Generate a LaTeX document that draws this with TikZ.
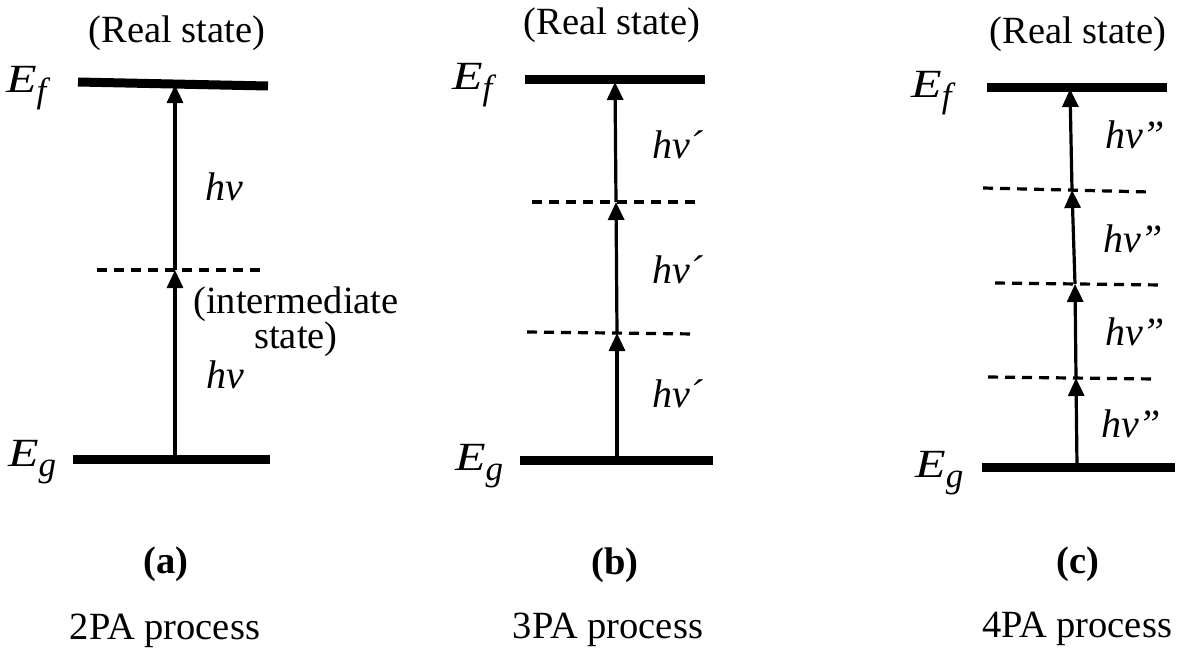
\documentclass[tikz,border=0pt]{standalone}
\usepackage{fontspec}
\setmainfont{Liberation Serif}
\usetikzlibrary{arrows.meta}
\newcommand{\bigE}{\scalebox{1.25}[1]{E}}
\newcommand{\subsc}[1]{\raisebox{-10pt}{\fontsize{35}{35}\selectfont #1}}
\begin{document}
\begin{tikzpicture}[x=1pt,y=-1pt,
  reallevel/.style={line width=9pt},
  virtlevel/.style={line width=3.2pt, dash pattern=on 10pt off 7pt},
  photon/.style={line width=3.2pt, -{Triangle[length=18pt,width=16pt]}},
  txt/.style={inner sep=0pt, font=\fontsize{38.5}{35}\selectfont},
  elbl/.style={txt, anchor=base west, font=\fontsize{40}{40}\selectfont\itshape},
  hvlbl/.style={txt, anchor=base west, font=\fontsize{40}{35}\selectfont\itshape},
  ctr/.style={txt, anchor=base}
]
\useasboundingbox (0,0) rectangle (1178,648);

% ---------------- panel (a) ----------------
\draw[reallevel] (78,82) -- (268,86);
\draw[reallevel] (73,459) -- (270,459);
\draw[virtlevel] (97,270) -- (264,270);
\coordinate (a0) at (175,459);
\coordinate (a1) at (175,270);
\coordinate (a2) at (175,85);
\draw[photon] (a0) -- (a1);
\draw[photon] (a1) -- (a2);
\node[ctr] (aReal) at (177,42) {(Real state)};
\node[elbl] (aEf) at (6,92) {\bigE\subsc{f}};
\node[elbl] (aEg) at (8,466) {\bigE\subsc{g}};
\node[hvlbl] (aHv1) at (205,200) {hv};
\node[hvlbl] (aHv2) at (206,388) {hv};
\node[txt, anchor=north, align=center] (aInter) at (296,287) {(intermediate\\state)};
\node[ctr, font=\fontsize{38.5}{35}\selectfont\bfseries] (aTag) at (166,573) {(a)};
\node[ctr] (aProc) at (165,639) {2PA process};

% ---------------- panel (b) ----------------
\draw[reallevel] (525,79) -- (705,79);
\draw[reallevel] (520,460) -- (713,460);
\draw[virtlevel] (532,202) -- (700,202);
\draw[virtlevel] (527,332) -- (695,334);
\coordinate (b0) at (617,460);
\coordinate (b1) at (617,333);
\coordinate (b2) at (616,202);
\coordinate (b3) at (615,82);
\draw[photon] (b0) -- (b1);
\draw[photon] (b1) -- (b2);
\draw[photon] (b2) -- (b3);
\node[ctr] (bReal) at (612,34) {(Real state)};
\node[elbl] (bEf) at (452,89) {\bigE\subsc{f}};
\node[elbl] (bEg) at (455,470) {\bigE\subsc{g}};
\node[hvlbl] (bHv1) at (652,158) {hv\symbol{"B4}};
\node[hvlbl] (bHv2) at (652,283) {hv\symbol{"B4}};
\node[hvlbl] (bHv3) at (652,407) {hv\symbol{"B4}};
\node[ctr, font=\fontsize{38.5}{35}\selectfont\bfseries] (bTag) at (615,574) {(b)};
\node[ctr] (bProc) at (608,638) {3PA process};

% ---------------- panel (c) ----------------
\draw[reallevel] (987,87) -- (1167,87);
\draw[reallevel] (982,467) -- (1175,467);
\draw[virtlevel] (983,188) -- (1150,192);
\draw[virtlevel] (995,283) -- (1162,285);
\draw[virtlevel] (988,377) -- (1155,379);
\coordinate (c0) at (1077,467);
\coordinate (c1) at (1076,378);
\coordinate (c2) at (1075,284);
\coordinate (c3) at (1072,190);
\coordinate (c4) at (1070,89);
\draw[photon] (c0) -- (c1);
\draw[photon] (c1) -- (c2);
\draw[photon] (c2) -- (c3);
\draw[photon] (c3) -- (c4);
\node[ctr] (cReal) at (1078,43) {(Real state)};
\node[elbl] (cEf) at (911,97) {\bigE\subsc{f}};
\node[elbl] (cEg) at (915,477) {\bigE\subsc{g}};
\node[hvlbl] (cHv1) at (1105,148) {hv\symbol{34}};
\node[hvlbl] (cHv2) at (1103,252) {hv\symbol{34}};
\node[hvlbl] (cHv3) at (1105,345) {hv\symbol{34}};
\node[hvlbl] (cHv4) at (1101,437) {hv\symbol{34}};
\node[ctr, font=\fontsize{38.5}{35}\selectfont\bfseries] (cTag) at (1078,573) {(c)};
\node[ctr] (cProc) at (1077,637) {4PA process};
\end{tikzpicture}
\end{document}
